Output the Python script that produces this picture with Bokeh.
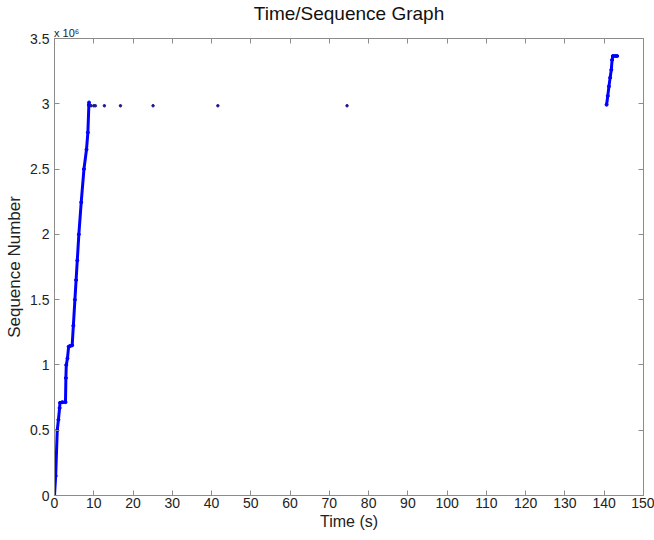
from bokeh.plotting import figure
from bokeh.models import LinearAxis, FixedTicker, Range1d, CustomJSTickFormatter
from bokeh.embed import file_html
from bokeh.resources import INLINE

# Main burst (time in s, sequence number)
burst_t = [0.0, 0.3, 0.7, 1.0, 1.3, 1.4, 2.0, 2.8, 2.9, 3.0, 3.3, 3.6, 4.0, 4.5,
           4.8, 5.2, 5.5, 5.8, 6.2, 6.8, 7.5, 8.15, 8.5, 8.75, 8.8]
burst_seq = [0, 150000, 500000, 580000, 670000, 710000, 715000, 715000, 900000,
             1000000, 1050000, 1140000, 1145000, 1150000, 1300000, 1500000,
             1650000, 1800000, 2000000, 2245000, 2500000, 2650000, 2780000,
             2990000, 3010000]

# Isolated retransmissions
retx_t = [9.3, 10.0, 10.4, 12.7, 16.8, 25.1, 41.6, 74.5]
retx_seq = [2985000, 2985000, 2985000, 2985000, 2985000, 2985000, 2985000, 2985000]

# Late burst
late_t = [140.6, 140.9, 141.2, 141.5, 141.8, 142.0, 142.2, 142.8, 143.3]
late_seq = [2993000, 3060000, 3133000, 3200000, 3260000, 3336000, 3366000,
            3366000, 3366000]

x_ticks = list(range(0, 151, 10))
y_ticks = [0, 500000, 1000000, 1500000, 2000000, 2500000, 3000000, 3500000]
y_tick_labels = ["0", "0.5", "1", "1.5", "2", "2.5", "3", "3.5"]
y_exponent = "x 10\u2076"

FONT = "Liberation Sans"
AX = "#8c8c8c"
TXT = "#222222"

p = figure(width=654, height=540, output_backend="svg", toolbar_location=None,
           x_range=Range1d(0, 150), y_range=Range1d(0, 3500000),
           min_border_left=54, min_border_right=11, min_border_top=35,
           min_border_bottom=45)
p.background_fill_color = "white"
p.border_fill_color = "white"
p.outline_line_color = AX
p.outline_line_width = 1
p.xgrid.visible = False
p.ygrid.visible = False

p.title.text = "Time/Sequence Graph"
p.title.align = "center"
p.title.text_font = FONT
p.title.text_font_size = "19px"
p.title.text_font_style = "normal"
p.title.text_color = "#111111"
p.title.standoff = 0
p.title.offset = 0

for ax in (p.xaxis[0], p.yaxis[0]):
    ax.major_tick_in = 5
    ax.major_tick_out = 0
    ax.minor_tick_in = 0
    ax.minor_tick_out = 0
    ax.axis_line_color = AX
    ax.major_tick_line_color = AX
    ax.major_label_text_font = FONT
    ax.major_label_text_font_size = "14px"
    ax.major_label_text_color = TXT
    ax.axis_label_text_font = FONT
    ax.axis_label_text_font_style = "normal"
    ax.axis_label_text_color = TXT

p.xaxis[0].ticker = FixedTicker(ticks=x_ticks)
p.xaxis[0].axis_label = "Time (s)"
p.xaxis[0].axis_label_text_font_size = "16px"
p.xaxis[0].major_label_standoff = 2
p.xaxis[0].axis_label_standoff = 2
p.yaxis[0].ticker = FixedTicker(ticks=y_ticks)
p.yaxis[0].major_label_overrides = {t: l for t, l in zip(y_ticks, y_tick_labels)}
p.yaxis[0].axis_label = "Sequence Number"
p.yaxis[0].axis_label_text_font_size = "17px"
p.yaxis[0].major_label_standoff = 5
p.yaxis[0].axis_label_standoff = 3

# mirrored ticks (top/right), no tick labels; top one carries the y exponent
top = LinearAxis(ticker=FixedTicker(ticks=x_ticks),
                 formatter=CustomJSTickFormatter(code="return ''"),
                 major_tick_in=5, major_tick_out=0,
                 minor_tick_in=0, minor_tick_out=0, axis_line_color=AX,
                 major_tick_line_color=AX, major_label_standoff=0,
                 major_label_text_font_size="1px",
                 axis_label="\u00a0" * 8 + y_exponent, axis_label_standoff=0,
                 axis_label_text_font=FONT, axis_label_text_font_size="11px",
                 axis_label_text_font_style="normal", axis_label_text_color=TXT)
if "axis_label_align" in top.properties():
    top.axis_label_align = "start"
right = LinearAxis(ticker=FixedTicker(ticks=y_ticks),
                   formatter=CustomJSTickFormatter(code="return ''"),
                   major_tick_in=5, major_tick_out=0,
                   minor_tick_in=0, minor_tick_out=0, axis_line_color=AX,
                   major_tick_line_color=AX, major_label_standoff=0,
                   major_label_text_font_size="1px")
p.add_layout(top, "above")
p.add_layout(right, "right")

BLUE = "#0000ff"
p.line(burst_t, burst_seq, line_color=BLUE, line_width=3)
p.scatter(burst_t, burst_seq, size=3, color=BLUE)
p.scatter(retx_t, retx_seq, size=2.5, color="#1a1a8c")
p.line(late_t, late_seq, line_color=BLUE, line_width=3)
p.scatter(late_t, late_seq, size=3, color=BLUE)

open("out.html", "w").write(file_html(p, INLINE))
